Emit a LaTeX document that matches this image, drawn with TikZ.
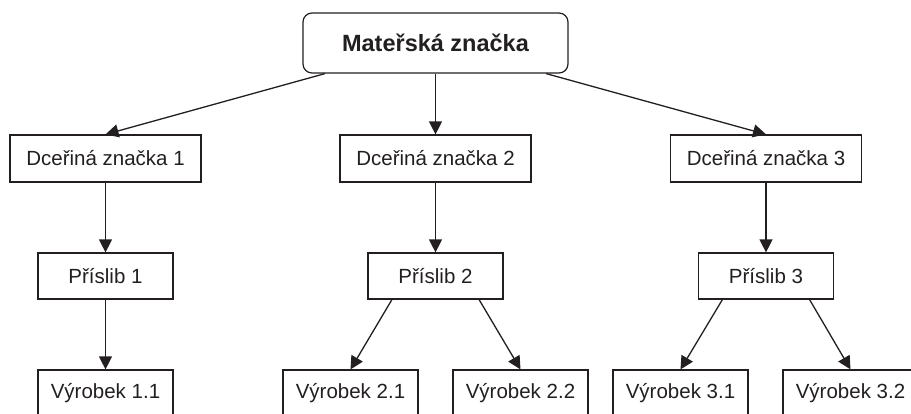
\documentclass[tikz,border=0pt]{standalone}
\usepackage{fontspec}
\setmainfont{Liberation Sans}
\usetikzlibrary{arrows.meta,calc}
\definecolor{ink}{RGB}{35,31,32}
\begin{document}
\begin{tikzpicture}[x=1pt,y=-1pt,
  box/.style={draw=ink,line width=1.2pt,text=ink,inner sep=0pt,
    font=\fontsize{20.5}{24}\selectfont},
  dbox/.style={box,minimum width=191pt,minimum height=47pt},
  pbox/.style={box,minimum width=135pt,minimum height=46pt},
  vbox/.style={box,minimum width=135pt,minimum height=47pt},
  topbox/.style={box,rounded corners=9pt,minimum width=265pt,minimum height=60pt,
    font=\fontsize{23.5}{27}\selectfont\bfseries},
  arr/.style={draw=ink,line width=1.3pt,-{Triangle[length=13pt,width=13pt]}}]
\useasboundingbox (0,0) rectangle (911,413);
\node[topbox] (top) at (435.5,43) {Mateřská značka};
\node[dbox] (d1) at (105.5,158.5) {Dceřiná značka 1};
\node[dbox] (d2) at (435.5,158.5) {Dceřiná značka 2};
\node[dbox] (d3) at (766,158.5) {Dceřiná značka 3};
\node[pbox] (p1) at (105.5,276) {Příslib 1};
\node[pbox] (p2) at (435.5,276) {Příslib 2};
\node[pbox] (p3) at (766,276) {Příslib 3};
\node[vbox] (v11) at (105.5,393.5) {Výrobek 1.1};
\node[vbox] (v21) at (350.5,393.5) {Výrobek 2.1};
\node[vbox] (v22) at (520.5,393.5) {Výrobek 2.2};
\node[vbox] (v31) at (680.5,393.5) {Výrobek 3.1};
\node[vbox] (v32) at (850.5,393.5) {Výrobek 3.2};
\coordinate (p2l) at ($(p2.south west)!0.18!(p2.south east)$);
\coordinate (p2r) at ($(p2.south west)!0.82!(p2.south east)$);
\coordinate (p3l) at ($(p3.south west)!0.18!(p3.south east)$);
\coordinate (p3r) at ($(p3.south west)!0.82!(p3.south east)$);
\draw[arr] (top) -- (d1.north);
\draw[arr] (top) -- (d2.north);
\draw[arr] (top) -- (d3.north);
\draw[arr] (d1.south) -- (p1.north);
\draw[arr] (d2.south) -- (p2.north);
\draw[arr] (d3.south) -- (p3.north);
\draw[arr] (p1.south) -- (v11.north);
\draw[arr] (p2l) -- (v21.north);
\draw[arr] (p2r) -- (v22.north);
\draw[arr] (p3l) -- (v31.north);
\draw[arr] (p3r) -- (v32.north);
\end{tikzpicture}
\end{document}
